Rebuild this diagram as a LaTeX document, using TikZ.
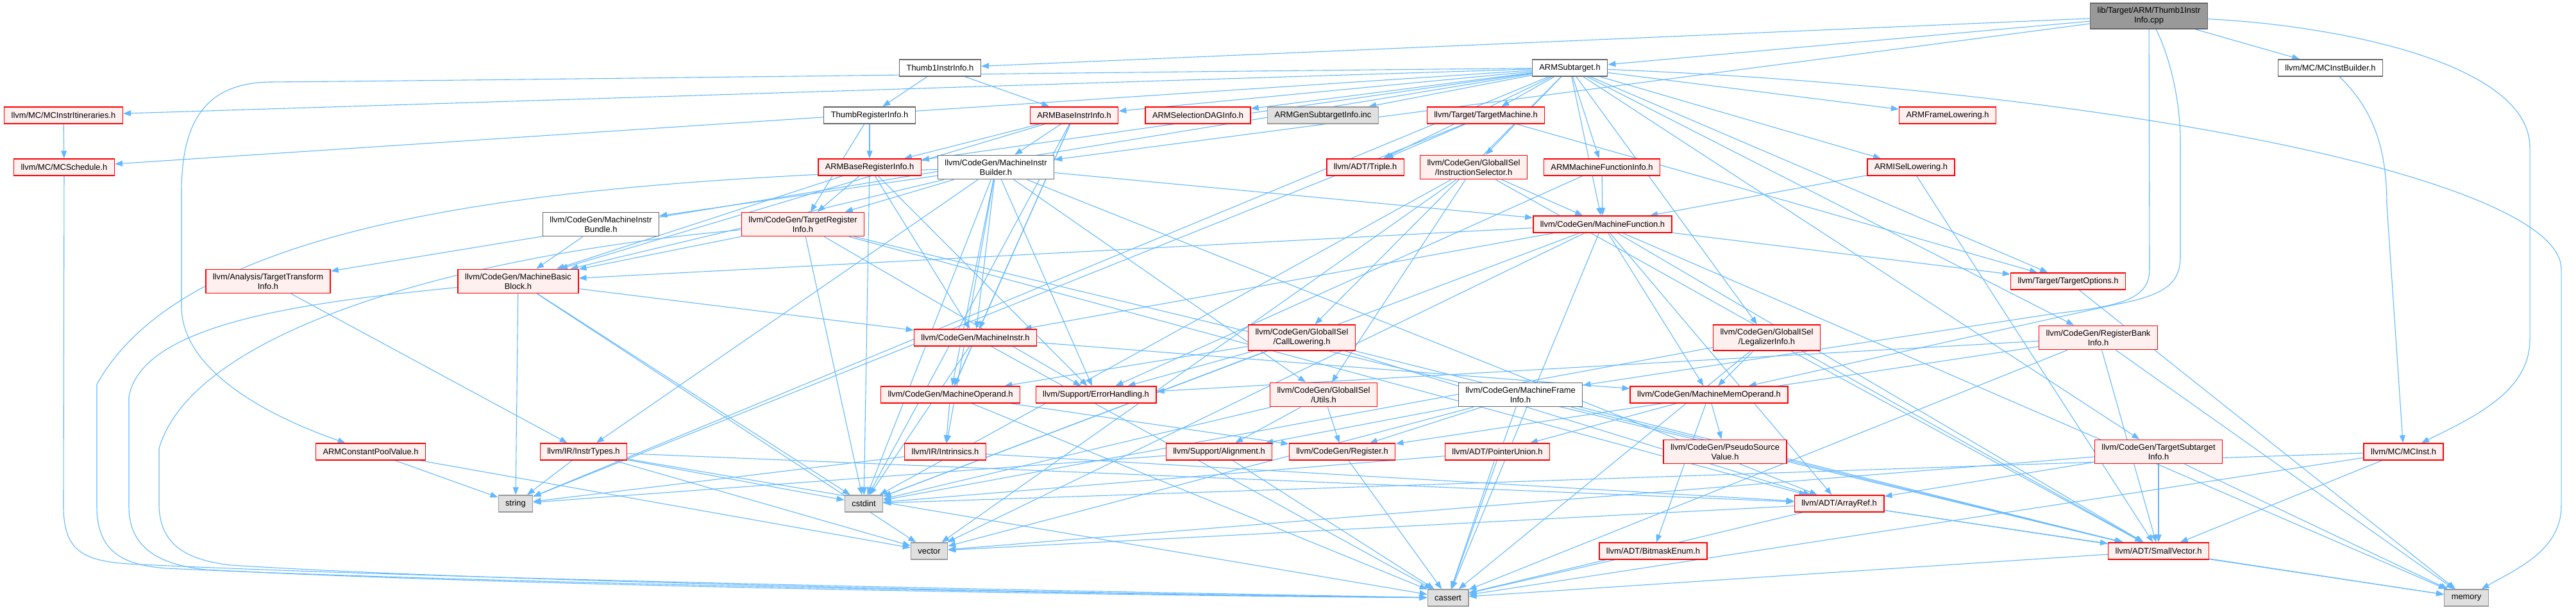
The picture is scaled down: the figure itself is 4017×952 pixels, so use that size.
\documentclass[tikz,border=0pt]{standalone}
\usepackage{fontspec}
\setmainfont{Liberation Sans}
\usetikzlibrary{arrows.meta}
\definecolor{edgeblue}{HTML}{63B8FF}
\definecolor{pinkfill}{HTML}{FFF0F0}
\definecolor{leafgray}{HTML}{E0E0E0}
\definecolor{rootgray}{HTML}{999999}
\definecolor{darkline}{HTML}{666666}
\pgfdeclarelayer{bg}
\pgfsetlayers{bg,main}
\begin{document}
\begin{tikzpicture}[x=1pt,y=-1pt,
    box/.style={draw,rectangle,line width=1.4pt,inner xsep=11pt,inner ysep=6.5pt,
      minimum height=26pt,align=center,font=\fontsize{12.9pt}{15pt}\selectfont},
    redfile/.style={box,draw=red,fill=pinkfill},
    whitefile/.style={box,draw=darkline,fill=white},
    sysfile/.style={box,draw=rootgray,fill=leafgray},
    rootfile/.style={box,draw=darkline,fill=rootgray},
    dep/.style={-{Triangle[length=12pt,width=9pt]},draw=edgeblue,line width=1.1pt}]
    \useasboundingbox (0,0) rectangle (4017,952);
    % Source file and first includes
    \node[rootfile] (title) at (3351,25) {lib/Target/ARM/Thumb1Instr\\Info.cpp};
    \node[whitefile] (t1ii) at (1466,106) {Thumb1InstrInfo.h};
    \node[whitefile] (sub) at (2448,106) {ARMSubtarget.h};
    \node[whitefile] (mcib) at (3634,106) {llvm/MC/MCInstBuilder.h};
    % Rank 3
    \node[redfile] (itin) at (99,180) {llvm/MC/MCInstrItineraries.h};
    \node[whitefile] (trinfo) at (1356,180) {ThumbRegisterInfo.h};
    \node[redfile] (abii) at (1675,180) {ARMBaseInstrInfo.h};
    \node[redfile] (sdag) at (1868,180) {ARMSelectionDAGInfo.h};
    \node[sysfile] (gensub) at (2063,180) {ARMGenSubtargetInfo.inc};
    \node[redfile] (tm) at (2317,180) {llvm/Target/TargetMachine.h};
    \node[redfile] (framel) at (3037,180) {ARMFrameLowering.h};
    % Rank 4
    \node[redfile] (sched) at (100,261) {llvm/MC/MCSchedule.h};
    \node[redfile] (abri) at (1356,261) {ARMBaseRegisterInfo.h};
    \node[whitefile] (mib) at (1553,261) {llvm/CodeGen/MachineInstr\\Builder.h};
    \node[redfile] (triple) at (2129,261) {llvm/ADT/Triple.h};
    \node[redfile] (isel) at (2298,261) {llvm/CodeGen/GlobalISel\\/InstructionSelector.h};
    \node[redfile] (mfi) at (2498,261) {ARMMachineFunctionInfo.h};
    \node[redfile] (isell) at (2980,261) {ARMISelLowering.h};
    % Rank 5
    \node[whitefile] (bundle) at (937,350) {llvm/CodeGen/MachineInstr\\Bundle.h};
    \node[redfile] (tri) at (1252,350) {llvm/CodeGen/TargetRegister\\Info.h};
    \node[redfile] (mf) at (2499,350) {llvm/CodeGen/MachineFunction.h};
    % Rank 6
    \node[redfile] (tti) at (418,439) {llvm/Analysis/TargetTransform\\Info.h};
    \node[redfile] (mbb) at (808,439) {llvm/CodeGen/MachineBasic\\Block.h};
    \node[redfile] (topt) at (3225,439) {llvm/Target/TargetOptions.h};
    % Rank 7
    \node[redfile] (mi) at (1521,527) {llvm/CodeGen/MachineInstr.h};
    \node[redfile] (calll) at (2030,527) {llvm/CodeGen/GlobalISel\\/CallLowering.h};
    \node[redfile] (legal) at (2755,527) {llvm/CodeGen/GlobalISel\\/LegalizerInfo.h};
    \node[redfile] (rbi) at (3272,527) {llvm/CodeGen/RegisterBank\\Info.h};
    % Rank 8
    \node[redfile] (mo) at (1482,616) {llvm/CodeGen/MachineOperand.h};
    \node[redfile] (err) at (1709,616) {llvm/Support/ErrorHandling.h};
    \node[redfile] (utils) at (2064,616) {llvm/CodeGen/GlobalISel\\/Utils.h};
    \node[whitefile] (mfrm) at (2371,616) {llvm/CodeGen/MachineFrame\\Info.h};
    \node[redfile] (mmo) at (2665,616) {llvm/CodeGen/MachineMemOperand.h};
    % Rank 9
    \node[redfile] (cpv) at (578,705) {ARMConstantPoolValue.h};
    \node[redfile] (itypes) at (910,705) {llvm/IR/InstrTypes.h};
    \node[redfile] (intr) at (1474,705) {llvm/IR/Intrinsics.h};
    \node[redfile] (align) at (1901,705) {llvm/Support/Alignment.h};
    \node[redfile] (reg) at (2093,705) {llvm/CodeGen/Register.h};
    \node[redfile] (punion) at (2335,705) {llvm/ADT/PointerUnion.h};
    \node[redfile] (psv) at (2690,705) {llvm/CodeGen/PseudoSource\\Value.h};
    \node[redfile] (tsi) at (3366,705) {llvm/CodeGen/TargetSubtarget\\Info.h};
    \node[redfile] (mcinst) at (3748,705) {llvm/MC/MCInst.h};
    % Bottom ranks
    \node[sysfile] (string) at (804,786) {string};
    \node[sysfile] (cstdint) at (1347,786) {cstdint};
    \node[redfile] (arrayref) at (2868,786) {llvm/ADT/ArrayRef.h};
    \node[sysfile] (vector) at (1449,860) {vector};
    \node[redfile] (bitmask) at (2578,860) {llvm/ADT/BitmaskEnum.h};
    \node[redfile] (smallvec) at (3366,860) {llvm/ADT/SmallVector.h};
    \node[sysfile] (cassert) at (2258,933) {cassert};
    \node[sysfile] (memory) at (3846,933) {memory};

    \begin{pgfonlayer}{bg}
    % Include edges
    \foreach \src/\dst in {title/t1ii, title/sub, title/mcib, title/mib,
        t1ii/abii, t1ii/trinfo, trinfo/abri, trinfo/tri,
        abii/abri, abii/mib, abii/mbb, abii/mi, abii/mo, abii/cstdint,
        abri/tri, abri/mbb, abri/mi, abri/err, abri/cstdint,
        sub/abii, sub/abri, sub/framel, sub/isell, sub/mfi, sub/sdag, sub/triple,
        sub/tti, sub/calll, sub/isel, sub/legal, sub/mf, sub/rbi, sub/tsi,
        sub/itin, sub/sched, sub/tm, sub/topt, sub/string, sub/gensub,
        tm/triple, tm/topt, tm/string, itin/sched,
        mib/arrayref, mib/utils, mib/mbb, mib/mf, mib/mi, mib/bundle, mib/mo,
        mib/tri, mib/itypes, mib/intr, mib/err, mib/cstdint,
        isel/smallvec, isel/utils, isel/mf, isel/cstdint, isel/vector,
        mfi/mf, mfi/err, isell/smallvec, isell/mf, tti/itypes, bundle/mbb,
        tri/arrayref, tri/smallvec, tri/mbb, tri/err, tri/cstdint,
        mf/arrayref, mf/smallvec, mf/mbb, mf/mi, mf/mmo, mf/topt, mf/cassert,
        mf/cstdint, mf/memory, mf/vector, topt/memory,
        mbb/mi, mbb/cstdint, mbb/string, mbb/vector,
        mi/mmo, mi/mo, mi/cassert, mi/cstdint,
        calll/arrayref, calll/smallvec, calll/mo, calll/err, calll/cstdint,
        legal/smallvec, legal/mmo, legal/cassert, legal/cstdint,
        rbi/smallvec, rbi/reg, rbi/err, rbi/cassert, rbi/memory,
        mo/reg, mo/intr, mo/cassert, utils/reg, utils/align, utils/cstdint,
        mfrm/smallvec, mfrm/reg, mfrm/align, mfrm/cassert, mfrm/vector,
        mmo/bitmask, mmo/punion, mmo/psv, cpv/string, cpv/vector,
        itypes/arrayref, itypes/cassert, itypes/cstdint, itypes/string, itypes/vector,
        intr/arrayref, intr/string, align/cassert, align/string, reg/cassert,
        punion/cassert, punion/cstdint,
        tsi/arrayref, tsi/smallvec, tsi/memory, tsi/vector,
        mcinst/smallvec, mcinst/cassert, mcinst/cstdint,
        arrayref/smallvec, arrayref/cassert, arrayref/memory, arrayref/vector,
        bitmask/cassert, smallvec/cassert, smallvec/memory}
      \draw[dep] (\src) -- (\dst);
    % Long sweeps round the left and along the bottom
    \draw[dep] (sched) -- (99,790) .. controls (99,860) and (130,875) .. (200,880)
      .. controls (700,905) and (1800,925) .. (cassert);
    \draw[dep] (mib) .. controls (900,285) and (300,330) .. (151,600) -- (151,790)
      .. controls (151,860) and (190,882) .. (260,887) .. controls (800,912) and (1800,928) .. (cassert);
    \draw[dep] (mbb) .. controls (500,470) and (220,500) .. (201,620) -- (201,790)
      .. controls (201,850) and (240,880) .. (320,889) .. controls (800,915) and (1800,930) .. (cassert);
    \draw[dep] (tri) .. controls (700,400) and (300,520) .. (248,700) -- (248,790)
      .. controls (250,850) and (290,874) .. (360,882) .. controls (800,910) and (1800,928) .. (cassert);
    \draw[dep] (sub) .. controls (1500,115) and (800,125) .. (420,128)
      .. controls (320,130) and (283,190) .. (283,300) -- (283,480)
      .. controls (285,580) and (420,650) .. (cpv);
    % Sweeps round the right side
    \draw[dep] (title) .. controls (3650,40) and (3945,100) .. (3945,230) -- (3945,530)
      .. controls (3945,610) and (3860,650) .. (mcinst);
    \draw[dep] (sub) .. controls (3300,140) and (3994,280) .. (3994,420) -- (3994,790)
      .. controls (3994,860) and (3920,890) .. (memory);
    \draw[dep] (mcib) .. controls (3700,170) and (3722,230) .. (3722,320) -- (mcinst);
    \draw[dep] (title) -- (3352,420) .. controls (3352,470) and (3300,478) .. (3200,490) -- (mfrm);
    \draw[dep] (title) .. controls (3380,80) and (3400,150) .. (3400,220) -- (3400,400)
      .. controls (3400,440) and (3380,460) .. (3300,475) -- (mmo);
    \end{pgfonlayer}
\end{tikzpicture}
\end{document}
